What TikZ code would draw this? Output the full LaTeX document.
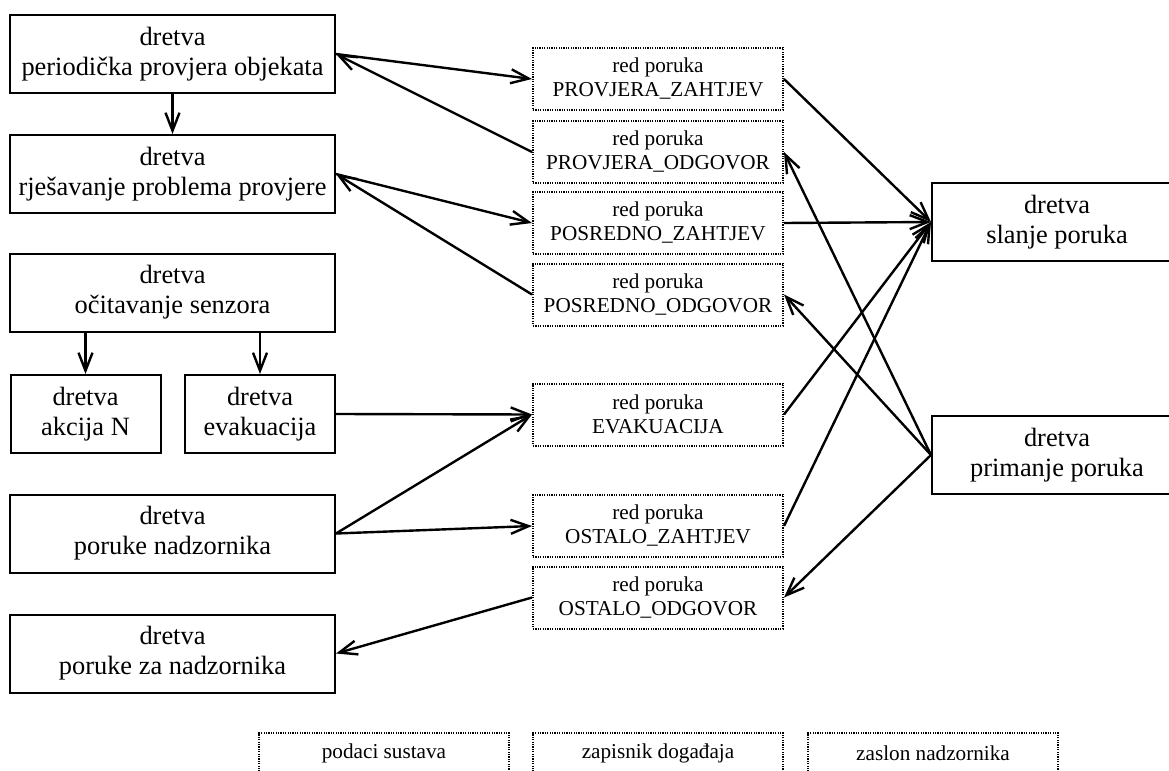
\documentclass[tikz,border=0pt]{standalone}
\usepackage{fontspec}
\setmainfont{Liberation Serif}
\usetikzlibrary{arrows.meta}

\begin{document}
\begin{tikzpicture}[x=0.5pt, y=-0.5pt]
  \clip (0,0) rectangle (1169,771);
  \begin{scope}
    \begin{scope}[every node/.style={draw=black, line width=1pt, minimum width=162.5pt, minimum height=39pt, inner sep=0pt, align=center, font=\fontsize{13.2}{15}\selectfont}]
      \node (prov) at (172.5,54) {dretva\\periodička provjera objekata};
      \node (rjes) at (172.5,174) {dretva\\rješavanje problema provjere};
      \node (senz) at (172.5,292.5) {dretva\\očitavanje senzora};
      \node[minimum width=75pt] (akc) at (85.5,414) {dretva\\akcija N};
      \node[minimum width=75pt] (evak) at (260,414) {dretva\\evakuacija};
      \node (nadz) at (172.5,533.5) {dretva\\poruke nadzornika};
      \node (zanadz) at (172.5,653.5) {dretva\\poruke za nadzornika};
      \node[minimum width=125pt] (slanje) at (1057,222) {dretva\\slanje poruka};
      \node[minimum width=125pt] (prim) at (1057,455) {dretva\\primanje poruka};
    \end{scope}
    \begin{scope}[every node/.style={draw=black, line width=1pt, dash pattern=on 0.6pt off 0.6pt, minimum width=125pt, minimum height=31pt, inner sep=0pt, align=center, font=\fontsize{10.6}{12}\selectfont}]
      \node (pz) at (658,79) {red poruka\\PROVJERA\_ZAHTJEV};
      \node (po) at (658,152) {red poruka\\PROVJERA\_ODGOVOR};
      \node (sz) at (658,223) {red poruka\\POSREDNO\_ZAHTJEV};
      \node (so) at (658,294.5) {red poruka\\POSREDNO\_ODGOVOR};
      \node (qev) at (658,414.5) {red poruka\\EVAKUACIJA};
      \node (oz) at (658,526) {red poruka\\OSTALO\_ZAHTJEV};
      \node (oo) at (658,597.5) {red poruka\\OSTALO\_ODGOVOR};
      \node[minimum height=20.5pt] (podaci) at (384,753.5) {podaci sustava};
      \node[minimum height=20.5pt] (zapis) at (658,753.5) {zapisnik događaja};
      \node[minimum height=20.5pt] (zaslon) at (933,753.5) {zaslon nadzornika};
    \end{scope}
    \begin{scope}[every edge/.style={draw=black, line width=1.2pt, -{Straight Barb[length=9pt,width=7pt]}}]
      \path (prov) edge (rjes);
      \path (akc.north |- senz.south) edge (akc.north);
      \path (evak.north |- senz.south) edge (evak.north);
      \path (prov.east) edge (pz.west);
      \path (po.west) edge (prov.east);
      \path (rjes.east) edge (sz.west);
      \path (so.west) edge (rjes.east);
      \path (evak.east) edge (qev.west);
      \path (nadz.east) edge (qev.west);
      \path (nadz.east) edge (oz.west);
      \path (oo.west) edge (zanadz.east);
      \path (pz.east) edge (slanje.west);
      \path (sz.east) edge (slanje.west);
      \path (qev.east) edge (slanje.west);
      \path (oz.east) edge (slanje.west);
      \path (prim.west) edge (po.east);
      \path (prim.west) edge (so.east);
      \path (prim.west) edge (oo.east);
    \end{scope}
  \end{scope}
\end{tikzpicture}
\end{document}
